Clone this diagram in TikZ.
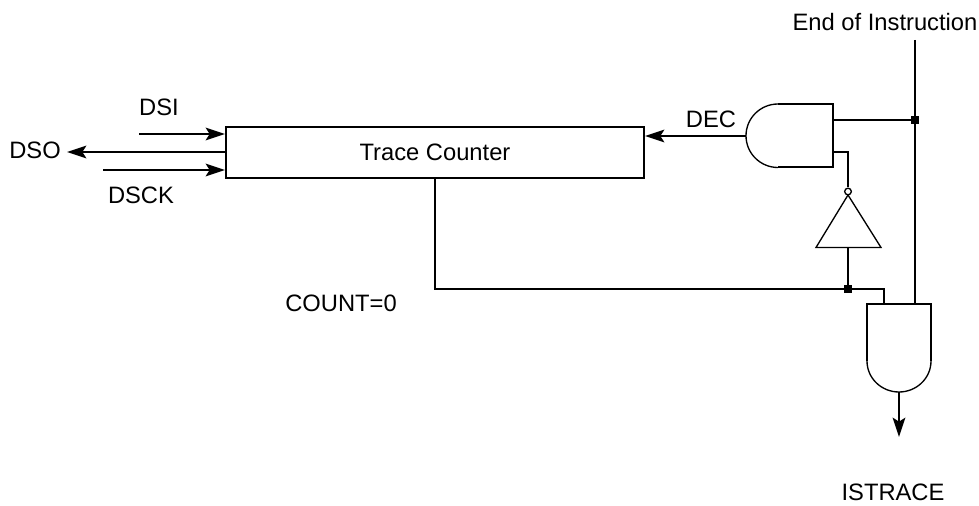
\documentclass[tikz,border=0pt]{standalone}
\usepackage{fontspec}
\setmainfont{Liberation Sans}
\usetikzlibrary{arrows.meta,calc}
\tikzset{
  wire/.style={line width=1.5pt},
  thin gate/.style={line width=1pt},
  sig/.style={wire,-{Stealth[length=14.5pt,width=9.5pt,inset=3pt]}},
  lbl/.style={inner sep=0pt,font=\fontsize{17.8pt}{20pt}\selectfont,text=black},
  dot/.style={fill=black,inner sep=0pt,minimum size=5.5pt,shape=rectangle},
  counter/.style={draw,line width=1.5pt,inner sep=0pt,minimum width=313.5pt,minimum height=38.25pt},
}
\begin{document}
\begin{tikzpicture}[x=0.75pt,y=-0.75pt]
\useasboundingbox (0,0) rectangle (979,506);
\node[counter,lbl,draw] (tc) at (435,152.5) {Trace Counter};
% free ends
\coordinate (dsiS) at (139,134);
\coordinate (dsckS) at (103,170);
\coordinate (dsoE) at (67,152);
\coordinate (dsiE) at (tc.west |- dsiS);
\coordinate (dsckE) at (tc.west |- dsckS);
\coordinate (dsoS) at (tc.west |- dsoE);
\draw[sig] (dsiS) -- (dsiE);
\draw[sig] (dsckS) -- (dsckE);
\draw[sig] (dsoS) -- (dsoE);
\node[lbl] (dsi) at (159,107) {DSI};
\node[lbl] (dso) at (35,150) {DSO};
\node[lbl] (dsck) at (141,195) {DSCK};
\node[lbl] (dec) at (711,119) {DEC};
\node[lbl] (cnt) at (341,303) {COUNT=0};
\node[lbl] (eoi) at (885,22) {End of Instruction};
\node[lbl] (ist) at (893,492) {ISTRACE};
% AND gate top
\coordinate (a1out) at (746,136);
\coordinate (a1inA) at (833,120);
\coordinate (a1inB) at (833,152);
\draw[wire,line join=miter] (778,104) -- (833,104) -- (833,167.5) -- (778,167.5);
\draw[thin gate] (778,104) arc[start angle=-90,end angle=-270,x radius=32,y radius=31.75];
\draw[sig] (a1out) -- (tc.east |- a1out);
% inverter
\coordinate (invT) at (848,195);
\coordinate (invB) at (848,247.5);
\draw[thin gate,line join=miter] (invT) -- (881,247.5) -- (816,247.5) -- cycle;
\node[draw,circle,line width=1pt,minimum size=5pt,inner sep=0pt,fill=white] (bub) at (848,191.5) {};
\draw[wire] (a1inB) -- (bub.north |- a1inB) -- (bub.north);
% AND gate bottom
\coordinate (a2inA) at (884,304);
\coordinate (a2inB) at (915,304);
\coordinate (a2out) at (899,392);
\draw[wire,line join=miter] (867,361) -- (867,304.5) -- (931,304.5) -- (931,361);
\draw[thin gate] (867,361) arc[start angle=-180,end angle=-360,x radius=32,y radius=31];
% counter output
\coordinate (jc) at (848,289);
\coordinate (tcB) at (435,178);
\draw[wire] (tcB) |- (jc) -| (a2inA);
\draw[wire] (invB) -- (jc);
\node[dot] (jcd) at (jc) {};
% end of instruction
\coordinate (eoiS) at (915,40);
\coordinate (j1) at (915,120);
\draw[wire] (eoiS) -- (a2inB);
\draw[wire] (a1inA) -- (j1);
\node[dot] (j1d) at (j1) {};
% output
\coordinate (istE) at (899,437);
\draw[sig] (a2out) -- (istE);
\end{tikzpicture}
\end{document}
